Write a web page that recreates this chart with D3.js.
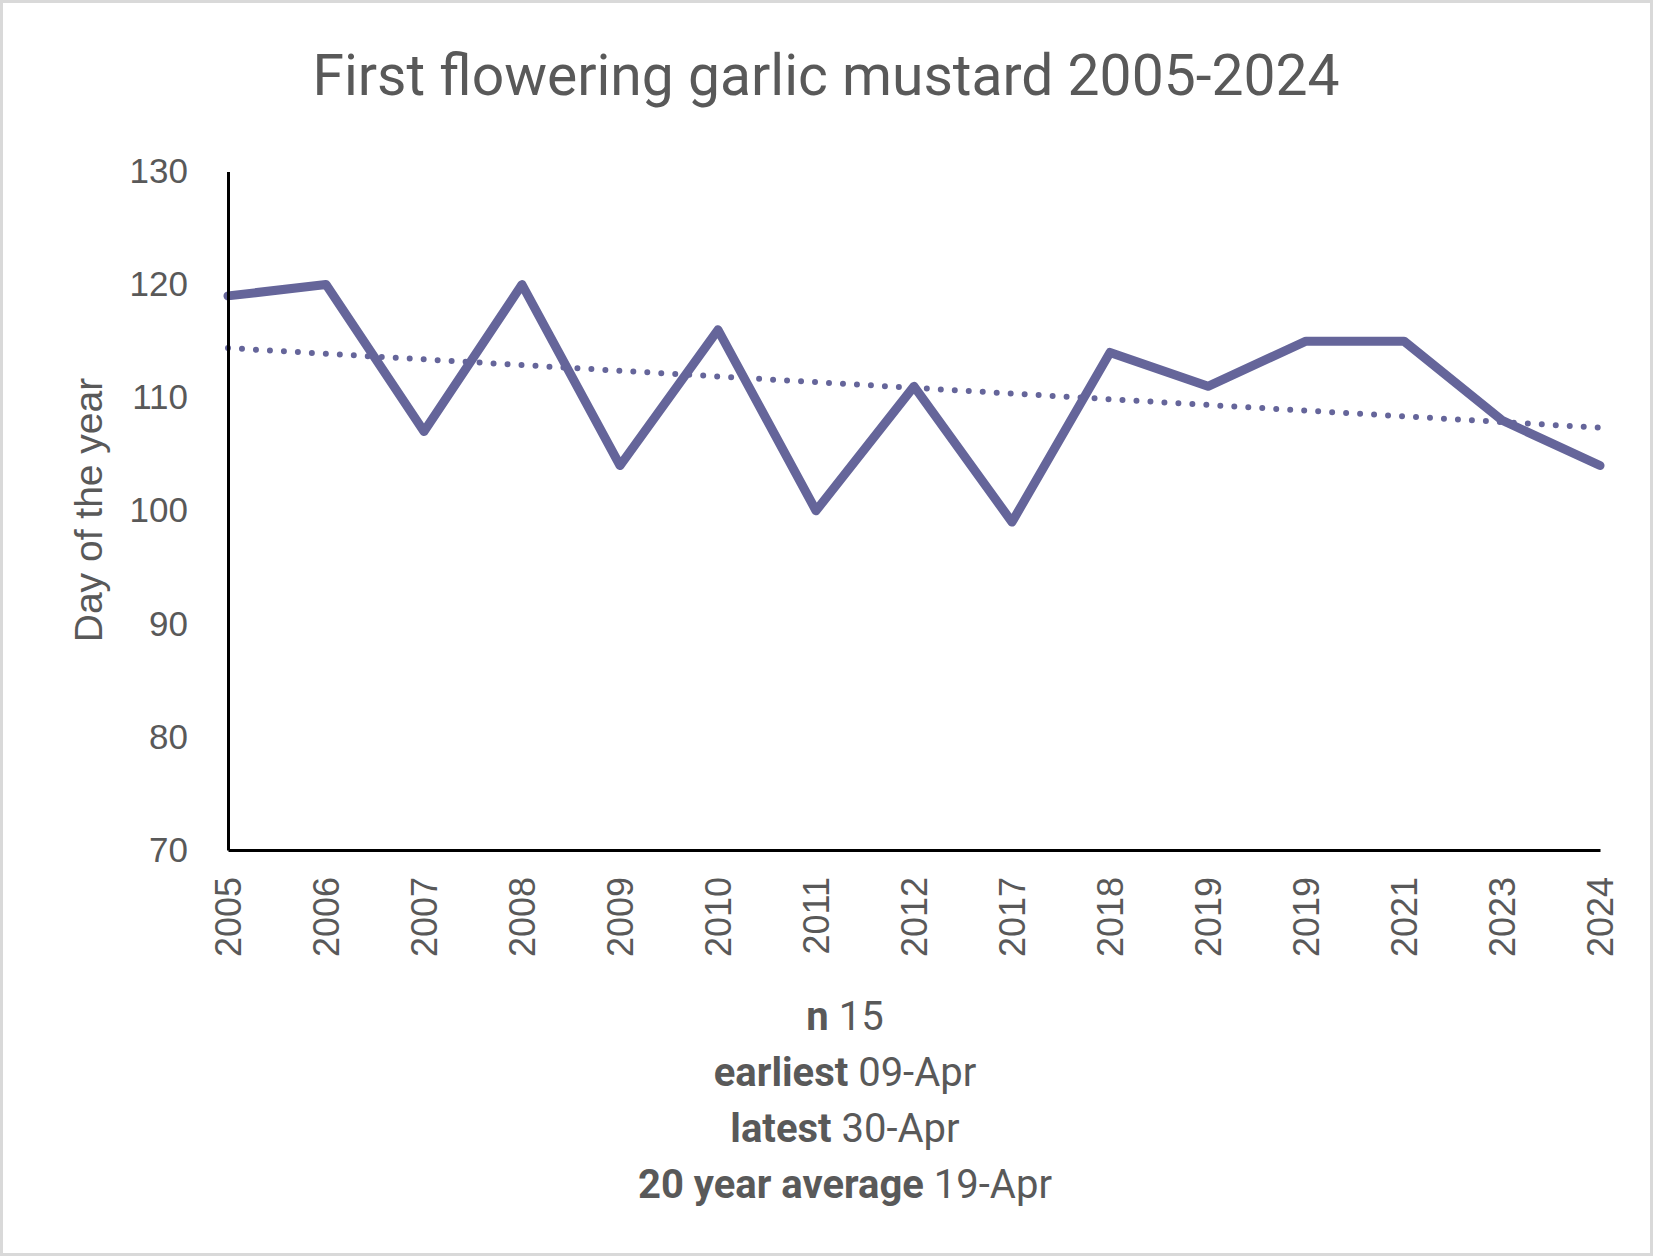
<!DOCTYPE html>
<html>
<head>
<meta charset="UTF-8">
<title>First flowering garlic mustard</title>
<script src="https://cdn.jsdelivr.net/npm/d3@7"></script>
<style>
    body { margin: 0; background: #ffffff; }
    .axisText { font-family: "Liberation Sans", Arial, sans-serif; fill: #595959; }
</style>
</head>
<body>
<script>

    //Chart data.
    var yearLabels = ["2005", "2006", "2007", "2008", "2009", "2010", "2011", "2012",
                      "2017", "2018", "2019", "2019", "2021", "2023", "2024"];
    var firstFlowerDay = [119, 120, 107, 120, 104, 116, 100, 111, 99, 114, 111, 115, 115, 108, 104];
    var yTicks = [70, 80, 90, 100, 110, 120, 130];
    var statLabels = ["n", "earliest", "latest", "20 year average"];
    var statValues = ["15", "09-Apr", "30-Apr", "19-Apr"];

    var width = 1653, height = 1256;
    var lineColor = "#65659a", textColor = "#595959";

    var svg = d3.select("body").append("svg")
                .attr("width", width)
                .attr("height", height);

    //Outer chart border.
    svg.append("rect")
       .attr("x", 1.5).attr("y", 1.5)
       .attr("width", width - 3).attr("height", height - 3)
       .attr("fill", "#ffffff")
       .attr("stroke", "#d9d9d9")
       .attr("stroke-width", 3);

    var plotLeft = 228, plotRight = 1600, plotTop = 171.5, plotBottom = 850;

    var x = d3.scalePoint()
              .domain(d3.range(yearLabels.length))
              .range([plotLeft, plotRight]);
    var y = d3.scaleLinear()
              .domain([70, 130])
              .range([plotBottom, plotTop]);

    //Title.
    svg.append("text")
       .attr("x", 826).attr("y", 95)
       .attr("text-anchor", "middle")
       .attr("font-family", "Roboto, sans-serif")
       .attr("font-size", 57)
       .attr("fill", textColor)
       .text("First flowering garlic mustard 2005-2024");

    //Linear trendline (least squares over the category index, like Excel does).
    var n = firstFlowerDay.length;
    var meanX = d3.mean(d3.range(n)), meanY = d3.mean(firstFlowerDay);
    var sxy = d3.sum(firstFlowerDay, function (v, i) { return (i - meanX) * (v - meanY); });
    var sxx = d3.sum(d3.range(n), function (i) { return (i - meanX) * (i - meanX); });
    var slope = sxy / sxx, intercept = meanY - slope * meanX;

    svg.append("line")
       .attr("x1", x(0)).attr("y1", y(intercept))
       .attr("x2", x(n - 1)).attr("y2", y(intercept + slope * (n - 1)))
       .attr("stroke", lineColor)
       .attr("stroke-width", 6)
       .attr("stroke-linecap", "round")
       .attr("stroke-dasharray", "0 14");

    //Data line.
    var line = d3.line()
                 .x(function (d, i) { return x(i); })
                 .y(function (d) { return y(d); });
    svg.append("path")
       .datum(firstFlowerDay)
       .attr("d", line)
       .attr("fill", "none")
       .attr("stroke", lineColor)
       .attr("stroke-width", 9)
       .attr("stroke-linejoin", "round")
       .attr("stroke-linecap", "round");

    //Y axis.
    var yAxis = svg.append("g")
                   .attr("transform", "translate(" + plotLeft + ",0)")
                   .call(d3.axisLeft(y).tickValues(yTicks).tickSize(0).tickPadding(40));
    yAxis.select(".domain").attr("stroke", "#000000").attr("stroke-width", 3);
    yAxis.selectAll("text")
         .attr("class", "axisText")
         .attr("font-size", 35)
         .attr("fill", textColor);

    //X axis with rotated year labels.
    var xAxis = svg.append("g")
                   .attr("transform", "translate(0," + plotBottom + ")")
                   .call(d3.axisBottom(x).tickSize(0)
                           .tickFormat(function (i) { return yearLabels[i]; }));
    xAxis.select(".domain").attr("stroke", "#000000").attr("stroke-width", 3);
    xAxis.selectAll("text")
         .attr("class", "axisText")
         .attr("font-size", 36)
         .attr("fill", textColor)
         .attr("text-anchor", "end")
         .attr("transform", "rotate(-90)")
         .attr("x", -27)
         .attr("y", 0)
         .attr("dy", "0.35em");

    //Y axis title.
    svg.append("text")
       .attr("class", "axisText")
       .attr("transform", "translate(102,510) rotate(-90)")
       .attr("text-anchor", "middle")
       .attr("font-size", 39)
       .attr("fill", textColor)
       .text("Day of the year");

    //Summary lines under the chart.
    var stats = svg.append("g")
                   .attr("font-family", "Roboto, sans-serif")
                   .attr("font-size", 40)
                   .attr("fill", textColor);
    statLabels.forEach(function (lbl, i) {
        var t = stats.append("text")
                     .attr("x", 845)
                     .attr("y", 1030 + i * 56)
                     .attr("text-anchor", "middle");
        t.append("tspan").attr("font-weight", "bold").text(lbl);
        t.append("tspan").text(" " + statValues[i]);
    });

</script>
</body>
</html>
